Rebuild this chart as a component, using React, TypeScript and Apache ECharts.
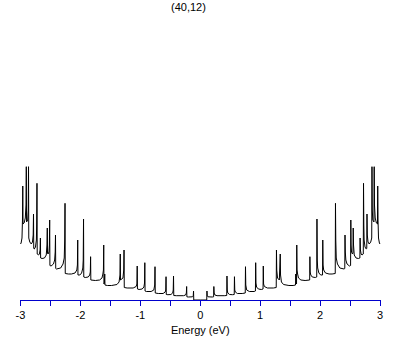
import React, { useEffect, useRef } from "react";
import * as echarts from "echarts";

// Positive-energy half of the DOS of the (40,12) nanotube (arb. units).
// The curve is symmetric about E = 0; the negative half mirrors these points.
const energies: number[] = [
  0.0, 0.108, 0.112, 0.117, 0.13, 0.2, 0.223, 0.227, 0.232, 0.245, 0.28, 0.4, 0.442, 0.446, 0.451, 0.46,
  0.49, 0.54, 0.567, 0.571, 0.576, 0.585, 0.62, 0.7, 0.751, 0.755, 0.76, 0.775, 0.82, 0.9, 0.921, 0.925,
  0.93, 0.94, 0.97, 1.02, 1.048, 1.052, 1.057, 1.07, 1.12, 1.22, 1.268, 1.272, 1.277, 1.29, 1.32, 1.331,
  1.335, 1.34, 1.355, 1.39, 1.48, 1.55, 1.59, 1.594, 1.6, 1.607, 1.611, 1.616, 1.625, 1.64, 1.68, 1.75,
  1.826, 1.83, 1.835, 1.845, 1.87, 1.92, 1.944, 1.948, 1.953, 1.96, 1.98, 2.01, 2.041, 2.045, 2.05, 2.06,
  2.09, 2.15, 2.2, 2.253, 2.257, 2.262, 2.27, 2.29, 2.33, 2.4, 2.412, 2.416, 2.421, 2.43, 2.45, 2.49,
  2.509, 2.513, 2.518, 2.525, 2.54, 2.549, 2.553, 2.558, 2.57, 2.6, 2.64, 2.664, 2.668, 2.673, 2.685, 2.7,
  2.721, 2.725, 2.73, 2.735, 2.75, 2.77, 2.779, 2.783, 2.788, 2.8, 2.82, 2.845, 2.862, 2.866, 2.871, 2.88,
  2.899, 2.903, 2.908, 2.92, 2.94, 2.958, 2.962, 2.967, 2.975, 2.99, 3.0,
];
const dos: number[] = [
  0, 0, 9, 4, 3.2, 3, 3.2, 13.5, 7, 5, 4.3, 4.3, 4.5, 24, 10, 7,
  5.5, 5.3, 5.5, 23.3, 10, 8, 6.5, 6.5, 7, 33.3, 15, 10, 8.5, 8.5, 9, 37.3,
  17, 13, 11, 10.5, 11, 34, 16, 13.5, 12, 12, 12.5, 50, 30, 22, 20, 20,
  46, 25, 18, 15.5, 14.5, 14.5, 15, 26, 17, 16, 55, 30, 26, 22, 20, 19.5,
  20, 43.3, 28, 25, 23, 22.5, 23, 81, 40, 32, 27, 25, 25, 60, 35, 30,
  27, 26, 26, 26.5, 96.7, 60, 42, 36, 32, 31, 31.5, 65, 48, 40, 36, 34,
  34.5, 80, 55, 48, 46, 47, 72, 55, 45, 42, 41.5, 42, 62, 50, 46, 45,
  46, 116.7, 75, 60, 53, 51, 51.5, 86, 65, 58, 56, 58, 62, 133.3, 90, 80,
  78, 133.3, 95, 82, 77, 76, 114, 80, 62, 57, 56,
];
const xTickLabels: string[] = ["-3", "-2", "-1", "0", "1", "2", "3"];
const titleText = "(40,12)";
const xName = "Energy (eV)";

export default function App() {
  const ref = useRef<HTMLDivElement>(null);
  useEffect(() => {
    if (!ref.current) return;
    const chart = echarts.init(ref.current, undefined, { renderer: "svg" });
    const pos = energies.map((e, i) => [e, dos[i]]);
    const neg = energies
      .map((e, i) => [-e, dos[i]])
      .reverse();
    const data = [...neg, ...pos.slice(1)];
    const font = "'Liberation Sans', Arial, sans-serif";
    chart.setOption({
      animation: false,
      backgroundColor: "#ffffff",
      title: {
        text: titleText,
        left: 171,
        top: 1,
        padding: 0,
        textStyle: { fontSize: 11, fontWeight: "normal", color: "#000", fontFamily: font },
      },
      grid: { left: 20.5, right: 29, top: 0, bottom: 45 },
      xAxis: {
        type: "value",
        min: -3,
        max: 3,
        interval: 0.5,
        z: 5,
        name: xName,
        nameLocation: "middle",
        nameGap: 23,
        nameTextStyle: { color: "#000", fontSize: 11, fontFamily: font },
        axisLine: { lineStyle: { color: "#0000cc", width: 1 } },
        axisTick: { length: 6, lineStyle: { color: "#0000cc", width: 1 } },
        axisLabel: {
          margin: 9,
          color: "#000",
          fontSize: 11,
          fontFamily: font,
          formatter: (v: number) => {
            const idx = xTickLabels.indexOf(String(v));
            return Number.isInteger(v) && idx >= 0 ? xTickLabels[idx] : "";
          },
        },
        splitLine: { show: false },
      },
      yAxis: { type: "value", min: 0, max: 300, show: false },
      series: [
        {
          type: "line",
          data,
          showSymbol: false,
          symbol: "none",
          lineStyle: { color: "#000", width: 1 },
          z: 2,
        },
      ],
    });
    return () => chart.dispose();
  }, []);
  return (
    <div
      ref={ref}
      style={{ position: "fixed", left: 0, top: 0, width: 409, height: 345, background: "#fff" }}
    />
  );
}
